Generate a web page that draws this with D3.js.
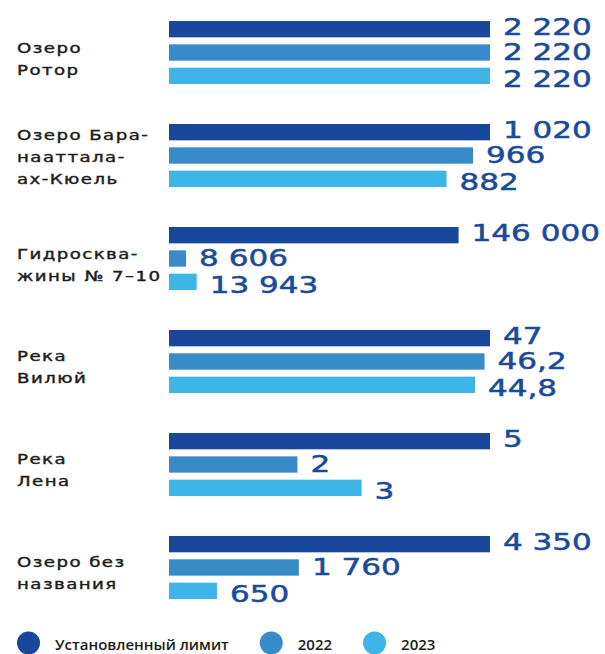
<!DOCTYPE html>
<html>
<head>
<meta charset="utf-8">
<script src="https://cdn.jsdelivr.net/npm/d3@7"></script>
<style>
  html, body { margin: 0; padding: 0; background: #fff; }
  svg { display: block; }
</style>
</head>
<body>
<div id="chart"></div>
<script>
// Data
const categories = [
  ["Озеро", "Ротор"],
  ["Озеро Бара-", "нааттала-", "ах-Кюель"],
  ["Гидроскважины", "№ 7–10"],
  ["Река", "Вилюй"],
  ["Река", "Лена"],
  ["Озеро без", "названия"]
];
// label as printed: hyphenated over two lines
categories[2] = ["Гидроскв" + "а-", "жины № 7–10"];
const series = ["Установленный лимит", "2022", "2023"];
const limitValues = [2220, 1020, 146000, 47, 5, 4350];
const values2022 = [2220, 966, 8606, 46.2, 2, 1760];
const values2023 = [2220, 882, 13943, 44.8, 3, 650];
const colors = ["#18479c", "#378bc9", "#3db5e6"];

const width = 605, height = 654;
const barLeft = 169, barMaxRight = 490, textMaxRight = 600, labelGap = 13;
const valueScaleX = 1.35, catScaleX = 1.3;
const labelDy = [5.5, 7.5, 11]; // value labels sit a bit more spread than the bars

const fmt = v => {
  const s = Number.isInteger(v) ? String(v) : String(v).replace(".", ",");
  return s.replace(/\B(?=(\d{3})+(?!\d))/g, " ");
};

const rows = categories.map((c, i) => ({
  key: "g" + i,
  lines: c,
  vals: [limitValues[i], values2022[i], values2023[i]]
}));

const svg = d3.select("#chart").append("svg")
  .attr("width", width)
  .attr("height", height);

const y0 = d3.scaleBand()
  .domain(rows.map(d => d.key))
  .range([21, 599])
  .paddingInner(0.388);

const y1 = d3.scaleBand()
  .domain(series)
  .range([0, y0.bandwidth()])
  .paddingInner(0.3);

const group = svg.append("g")
  .selectAll("g")
  .data(rows)
  .join("g")
  .attr("transform", d => `translate(0,${y0(d.key)})`);

// Category labels
group.each(function(d) {
  const g = d3.select(this);
  const lineH = 22;
  const n = d.lines.length;
  const mid = y0.bandwidth() / 2;
  const first = mid - (n - 1) * lineH / 2 + 5 + (n === 2 ? 6 : 1);
  const t = g.append("text")
    .attr("transform", `translate(17,0) scale(${catScaleX},1)`)
    .attr("font-family", "DejaVu Sans")
    .attr("font-size", 14)
    .attr("letter-spacing", 1.1)
    .attr("fill", "#1d1d1b")
    .attr("stroke", "#1d1d1b")
    .attr("stroke-width", 0.4);
  t.selectAll("tspan")
    .data(d.lines)
    .join("tspan")
    .attr("x", 0)
    .attr("y", (l, i) => first + i * lineH)
    .text(l => l);
});

// Bars and value labels
group.each(function(d) {
  const g = d3.select(this);
  const max = d3.max(d.vals);

  // measure the label of the largest value to keep it inside
  const probe = g.append("text")
    .attr("font-family", "DejaVu Sans")
    .attr("font-size", 23)
    .text(fmt(max));
  const maxLabelW = probe.node().getComputedTextLength() * valueScaleX;
  probe.remove();

  const right = Math.min(barMaxRight, textMaxRight - labelGap - maxLabelW);
  const x = d3.scaleLinear().domain([0, max]).range([barLeft, right]);

  const items = d.vals.map((v, i) => ({ s: series[i], i, v, c: colors[i] }));

  g.selectAll("rect")
    .data(items)
    .join("rect")
    .attr("x", barLeft)
    .attr("y", e => y1(e.s))
    .attr("width", e => x(e.v) - barLeft)
    .attr("height", y1.bandwidth())
    .attr("fill", e => e.c);

  g.selectAll("text.val")
    .data(items)
    .join("text")
    .attr("class", "val")
    .attr("transform", e => `translate(${x(e.v) + labelGap},${y1(e.s) + y1.bandwidth() / 2 + labelDy[e.i]}) scale(${valueScaleX},1)`)
    .attr("font-family", "DejaVu Sans")
    .attr("font-size", 23)
    .attr("fill", "#1b4a9b")
    .attr("stroke", "#1b4a9b")
    .attr("stroke-width", 0.5)
    .text(e => fmt(e.v));
});

// Legend
const legend = svg.append("g").attr("transform", "translate(0,643)");
let lx = 17;
series.forEach((s, i) => {
  legend.append("circle")
    .attr("cx", lx + 11.5)
    .attr("cy", 0)
    .attr("r", 11.5)
    .attr("fill", colors[i]);
  const t = legend.append("text")
    .attr("x", lx + 38)
    .attr("y", 7)
    .attr("font-family", "Open Sans")
    .attr("font-weight", 600)
    .attr("font-size", 15)
    .attr("fill", "#1d1d1b")
    .text(s);
  lx = lx + 38 + t.node().getComputedTextLength() + 31;
});
</script>
</body>
</html>
